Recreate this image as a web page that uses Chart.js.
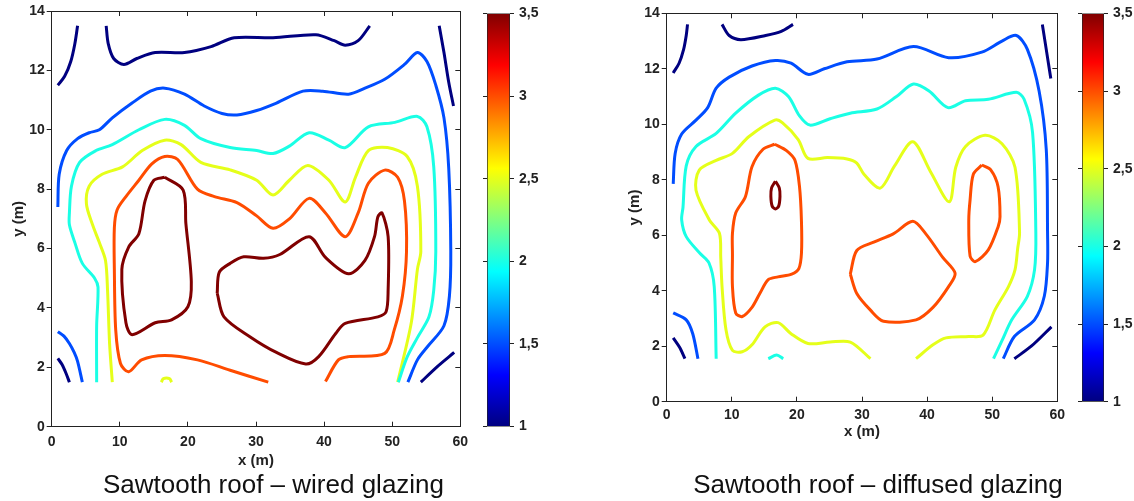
<!DOCTYPE html>
<html lang="en">
<head>
<meta charset="UTF-8">
<title>Sawtooth roof - contour maps</title>
<script src="https://cdn.jsdelivr.net/npm/chart.js@4"></script>
<style>
  * { margin: 0; padding: 0; box-sizing: border-box; }
  body {
    width: 1134px;
    height: 501px;
    background: #fff;
    position: relative;
    overflow: hidden;
    font-family: 'Liberation Sans', Arial, sans-serif;
  }
  canvas { position: absolute; }
  .caption {
    position: absolute;
    top: 471px;
    font-size: 26px;
    line-height: 26px;
    color: #111;
    white-space: nowrap;
    transform: translateX(-50%);
  }
</style>
</head>
<body>
  <canvas id="wiredMap" width="480" height="475" style="left:0;top:0"></canvas>
  <canvas id="wiredBar" width="60" height="440" style="left:480px;top:0"></canvas>
  <canvas id="diffusedMap" width="460" height="445" style="left:615px;top:0"></canvas>
  <canvas id="diffusedBar" width="59" height="420" style="left:1075px;top:0"></canvas>

  <div class="caption" style="left:273.5px">Sawtooth roof – wired glazing</div>
  <div class="caption" style="left:878px">Sawtooth roof – diffused glazing</div>

<script>
// axes
const xRange = [0, 60];
const yRange = [0, 14];
const xTickValues = [0, 10, 20, 30, 40, 50, 60];
const yTickValues = [0, 2, 4, 6, 8, 10, 12, 14];
const cbRange = [1, 3.5];
const cbTickValues = [1, 1.5, 2, 2.5, 3, 3.5];
const contourLevels = [1, 1.5, 2, 2.5, 3, 3.5];

// wired glazing: contour pieces [x, y] per level
const wiredL10 = [
  [[0.9,11.5],[1.9,11.8],[2.8,12.3],[3.4,12.9],[3.8,13.5]],
  [[8.0,13.5],[8.3,12.9],[9.1,12.4],[10.6,12.2],[12.5,12.4],[15.2,12.6],[19.5,12.6],[23.4,12.8],[26.8,13.1],[32.5,13.1],[38.8,13.2],[41.5,13.0],[43.1,12.85],[45.0,13.0],[46.7,13.5]],
  [[56.9,13.5],[57.6,12.6],[58.3,11.6],[59.0,10.8]],
  [[0.9,2.3],[1.5,2.1],[2.1,1.8],[2.6,1.5]],
  [[54.2,1.5],[56.5,2.0],[59.1,2.5]]
];
const wiredL15 = [
  [[0.9,7.4],[1.1,8.5],[2.2,9.3],[3.8,9.7],[5.5,9.9],[7.0,10.0],[8.9,10.4],[11.8,10.9],[14.5,11.3],[16.6,11.4],[19.5,11.2],[22.4,10.8],[25.0,10.55],[27.2,10.5],[30.1,10.65],[33.0,10.9],[36.9,11.3],[39.8,11.3],[43.6,11.2],[46.0,11.4],[48.9,11.7],[51.8,12.2],[53.7,12.6],[55.1,12.3],[56.4,11.5],[57.6,10.4],[58.3,8.7],[58.6,5.9],[58.4,4.4],[57.6,3.4],[55.2,2.7],[53.7,2.25],[52.3,1.5]],
  [[0.9,3.2],[1.8,3.05],[2.6,2.8],[3.3,2.5],[3.8,2.2],[4.5,1.5]]
];
const wiredL20 = [
  [[6.6,1.5],[6.6,3.4],[6.8,4.7],[6.3,5.0],[4.5,5.5],[3.4,6.2],[2.6,6.8],[2.6,7.2],[2.9,8.1],[4.1,8.9],[6.5,9.3],[8.9,9.5],[12.8,10.0],[16.6,10.35],[19.5,10.15],[21.9,9.7],[26.2,9.4],[30.1,9.3],[32.5,9.2],[34.9,9.45],[37.8,9.9],[40.7,9.65],[43.1,9.4],[46.5,10.1],[50.4,10.25],[53.7,10.45],[55.1,10.1],[56.1,8.75],[56.4,5.9],[56.1,4.6],[55.4,3.7],[53.7,3.0],[52.2,2.35],[50.9,1.5]]
];
const wiredL25 = [
  [[8.9,1.5],[8.5,2.8],[8.2,4.6],[7.9,5.6],[7.0,6.2],[6.0,6.8],[5.1,7.5],[5.5,8.1],[7.4,8.5],[10.4,8.75],[13.3,9.3],[16.6,9.65],[19.0,9.5],[21.9,8.9],[26.2,8.65],[30.1,8.3],[32.5,7.8],[34.9,8.3],[37.6,8.8],[40.7,8.3],[43.1,7.57],[44.6,8.4],[46.5,9.3],[49.3,9.4],[52.2,9.1],[53.7,8.1],[54.2,5.9],[53.7,5.3],[52.8,3.5],[50.8,1.5]],
  [[16.1,1.5],[16.4,1.62],[17.3,1.62],[17.6,1.5]]
];
const wiredL30 = [
  [[31.8,1.5],[26.2,1.9],[21.4,2.25],[16.6,2.4],[13.2,2.25],[11.3,1.85],[10.1,2.13],[9.4,3.26],[9.2,5.3],[9.2,6.7],[9.6,7.3],[10.9,7.75],[12.8,8.3],[14.7,8.85],[16.6,9.1],[18.5,9.0],[21.4,8.0],[23.9,7.75],[27.2,7.55],[30.1,7.1],[32.5,6.68],[34.9,7.0],[37.8,7.69],[40.2,7.2],[43.1,6.4],[45.0,7.2],[46.5,8.2],[48.9,8.64],[50.8,8.4],[51.8,7.6],[52.1,5.9],[51.5,4.4],[50.3,3.26],[48.9,2.47],[43.6,2.36],[42.1,2.25],[40.2,1.52]]
];
const wiredL35 = [
  [[16.6,8.4],[19.3,7.97],[19.7,6.85],[20.5,4.88],[20.0,4.04],[17.6,3.6],[15.2,3.5],[11.8,3.1],[10.9,3.5],[10.3,5.3],[11.3,6.05],[12.8,6.5],[13.7,7.6],[15.0,8.3],[16.6,8.4]],
  [[24.3,4.5],[24.6,5.2],[26.2,5.5],[28.2,5.72],[31.1,5.67],[33.5,5.8],[37.8,6.4],[40.2,5.7],[43.6,5.15],[46.0,5.6],[47.4,6.4],[47.9,7.07],[48.5,7.2],[49.4,6.4],[49.4,4.6],[49.1,3.87],[47.9,3.7],[43.1,3.48],[41.7,3.14],[39.2,2.36],[37.3,2.11],[33.0,2.5],[29.1,3.03],[25.3,3.7],[24.3,4.5]]
];

// diffused glazing: contour pieces [x, y] per level
const diffusedL10 = [
  [[1.0,11.85],[1.9,12.2],[2.6,12.7],[3.0,13.2],[3.2,13.6]],
  [[8.5,13.6],[9.6,13.2],[11.4,13.05],[15.2,13.2],[17.6,13.35],[19.4,13.6]],
  [[57.7,13.6],[58.3,12.7],[59.0,11.65]],
  [[1.0,2.3],[2.0,1.95],[2.8,1.55]],
  [[53.4,1.55],[56.0,2.0],[59.1,2.7]]
];
const diffusedL15 = [
  [[1.0,7.85],[1.3,8.95],[2.3,9.65],[4.5,10.15],[6.3,10.6],[7.6,11.3],[9.6,11.7],[13.1,12.1],[16.7,12.3],[19.1,12.2],[21.7,11.8],[24.2,12.0],[27.7,12.25],[32.3,12.35],[37.9,12.8],[43.3,12.4],[48.4,12.6],[51.5,13.0],[53.7,13.2],[55.4,12.7],[57.2,11.2],[58.3,9.1],[58.5,6.1],[58.5,5.0],[58.0,3.8],[56.5,2.95],[53.4,2.35],[51.7,1.55]],
  [[1.0,3.2],[3.0,2.95],[4.0,2.45],[4.8,1.55]]
];
const diffusedL20 = [
  [[7.6,1.55],[7.3,4.15],[6.5,5.0],[5.1,5.35],[3.0,5.95],[2.3,6.55],[2.5,7.0],[3.0,8.5],[4.5,9.2],[7.6,9.67],[10.6,10.4],[14.1,11.05],[16.7,11.3],[18.7,11.0],[20.4,10.3],[22.0,9.97],[25.1,10.2],[28.2,10.4],[32.3,10.55],[35.3,11.0],[37.9,11.45],[40.3,11.2],[43.2,10.6],[45.9,10.85],[49.4,10.9],[53.7,11.15],[54.9,10.9],[56.2,9.7],[56.7,6.1],[56.5,4.75],[55.4,3.8],[53.0,2.95],[51.5,2.2],[50.2,1.55]],
  [[15.6,1.55],[16.9,1.68],[17.9,1.55]]
];
const diffusedL25 = [
  [[31.3,1.55],[28.2,2.15],[25.1,2.15],[21.7,2.1],[19.1,2.45],[17.1,2.85],[15.1,2.7],[13.1,2.05],[11.6,1.8],[10.1,1.85],[9.1,2.6],[8.5,4.15],[8.3,5.2],[8.1,6.07],[6.55,6.55],[4.5,7.62],[5.0,8.35],[7.6,8.7],[10.1,8.95],[12.6,9.55],[16.6,10.15],[17.8,10.05],[20.2,9.45],[21.7,8.77],[24.7,8.8],[27.7,8.75],[29.2,8.6],[30.3,8.2],[32.8,7.7],[35.0,8.5],[37.8,9.37],[40.5,8.3],[43.4,7.21],[44.4,8.45],[45.9,9.2],[48.9,9.6],[51.5,9.3],[53.5,8.45],[54.2,6.1],[53.9,5.5],[53.5,4.75],[52.5,4.15],[50.4,3.3],[48.6,2.4],[46.4,2.35],[42.9,2.3],[40.9,2.05],[38.3,1.55]]
];
const diffusedL30 = [
  [[16.6,9.28],[18.4,9.05],[19.7,8.7],[20.4,7.75],[20.7,6.5],[20.7,5.35],[20.3,4.8],[19.2,4.6],[17.1,4.5],[15.6,4.4],[14.3,3.9],[13.1,3.4],[11.6,3.07],[10.6,3.2],[10.1,4.15],[10.1,5.3],[10.1,6.07],[10.6,6.8],[12.1,7.4],[13.1,8.47],[14.8,9.1],[16.6,9.28]],
  [[28.2,4.6],[29.2,5.45],[31.8,5.75],[34.8,6.05],[37.8,6.5],[39.8,6.05],[42.4,5.2],[44.3,4.63],[43.3,4.15],[40.9,3.4],[38.3,2.95],[33.3,2.9],[31.3,3.3],[29.2,3.9],[28.2,4.6]],
  [[48.4,8.53],[49.8,8.35],[50.9,7.75],[51.2,6.67],[50.9,6.3],[49.4,5.47],[47.4,5.05],[46.6,5.25],[46.4,6.55],[46.6,7.27],[47.1,8.2],[48.4,8.53]]
];
const diffusedL35 = [
  [[16.7,7.95],[17.3,7.7],[17.4,7.4],[17.2,7.05],[16.7,6.95],[16.2,7.05],[16.0,7.4],[16.1,7.7],[16.7,7.95]]
];

const ink = '#222';
const tickFont = { family: "'Liberation Sans', Arial, sans-serif", size: 14, weight: 'bold' };
const titleFont = { family: "'Liberation Sans', Arial, sans-serif", size: 15, weight: 'bold' };

// matlab style "jet" colormap, t in 0..1
function jet(t) {
  const c = v => Math.round(255 * Math.max(0, Math.min(1, v)));
  return `rgb(${c(1.5 - Math.abs(4 * t - 3))},${c(1.5 - Math.abs(4 * t - 2))},${c(1.5 - Math.abs(4 * t - 1))})`;
}
const levelColor = v => jet((v - cbRange[0]) / (cbRange[1] - cbRange[0]));

function buildDatasets(levels) {
  const sets = [];
  levels.forEach((pieces, i) => {
    pieces.forEach(p => {
      sets.push({
        data: p.map(([x, y]) => ({ x, y })),
        showLine: true,
        borderColor: levelColor(contourLevels[i]),
        borderWidth: 3,
        pointRadius: 0,
        tension: 0.3,
        fill: false
      });
    });
  });
  return sets;
}

const setTicks = vals => s => { s.ticks = vals.map(v => ({ value: v })); };

function contourChart(id, levels, g) {
  return new Chart(document.getElementById(id), {
    type: 'scatter',
    data: { datasets: buildDatasets(levels) },
    options: {
      responsive: false,
      animation: false,
      layout: { padding: { top: g.top, right: g.right, bottom: 0, left: 0 } },
      plugins: { legend: { display: false }, tooltip: { enabled: false } },
      scales: {
        x: {
          type: 'linear', position: 'bottom', min: xRange[0], max: xRange[1],
          afterBuildTicks: setTicks(xTickValues),
          ticks: { color: ink, font: tickFont, padding: g.xPad, maxRotation: 0, autoSkip: false },
          grid: { drawOnChartArea: false, tickLength: -5, tickColor: ink },
          border: { color: ink },
          title: { display: true, text: 'x (m)', color: ink, font: titleFont, padding: { top: 0, bottom: g.xTitlePad } },
          afterFit: s => { s.height = g.xH; }
        },
        x2: {
          type: 'linear', position: 'top', min: xRange[0], max: xRange[1],
          afterBuildTicks: setTicks(xTickValues),
          ticks: { display: false },
          grid: { drawOnChartArea: false, tickLength: -5, tickColor: ink },
          border: { color: ink },
          afterFit: s => { s.height = 0; }
        },
        y: {
          type: 'linear', position: 'left', min: yRange[0], max: yRange[1],
          afterBuildTicks: setTicks(yTickValues),
          ticks: { color: ink, font: tickFont, padding: 2, autoSkip: false },
          grid: { drawOnChartArea: false, tickLength: 5, tickColor: ink },
          border: { color: ink },
          title: { display: true, text: 'y (m)', color: ink, font: titleFont, padding: { top: g.yTitlePad, bottom: 0 } },
          afterFit: s => { s.width = g.yW; }
        },
        y2: {
          type: 'linear', position: 'right', min: yRange[0], max: yRange[1],
          afterBuildTicks: setTicks(yTickValues),
          ticks: { display: false },
          grid: { drawOnChartArea: false, tickLength: -5, tickColor: ink },
          border: { color: ink },
          afterFit: s => { s.width = 0; }
        }
      }
    }
  });
}

function colorBar(id, g) {
  const gradient = c => {
    const ch = c.chart;
    if (!ch.chartArea) return null;
    const y = ch.scales.y;
    const grd = ch.ctx.createLinearGradient(0, y.getPixelForValue(cbRange[0]), 0, y.getPixelForValue(cbRange[1]));
    for (let i = 0; i <= 8; i++) grd.addColorStop(i / 8, jet(i / 8));
    return grd;
  };
  return new Chart(document.getElementById(id), {
    type: 'bar',
    data: {
      labels: ['scale'],
      datasets: [{
        data: [[cbRange[0], cbRange[1]]],
        backgroundColor: gradient,
        borderColor: ink,
        borderWidth: 1,
        borderSkipped: false,
        barPercentage: 1,
        categoryPercentage: 1
      }]
    },
    options: {
      responsive: false,
      animation: false,
      layout: { padding: { top: g.top, right: 0, bottom: g.bottom, left: 0 } },
      plugins: { legend: { display: false }, tooltip: { enabled: false } },
      scales: {
        x: { display: false },
        y: {
          position: 'right', min: cbRange[0], max: cbRange[1],
          afterBuildTicks: setTicks(cbTickValues),
          ticks: { color: ink, font: tickFont, padding: 5, callback: v => String(v).replace('.', ',') },
          grid: { drawOnChartArea: false, tickLength: 4, tickColor: ink },
          border: { display: false },
          afterFit: s => { s.width = 30; }
        },
        y2: {
          position: 'left', min: cbRange[0], max: cbRange[1],
          afterBuildTicks: setTicks(cbTickValues),
          ticks: { display: false },
          grid: { drawOnChartArea: false, tickLength: 4, tickColor: ink },
          border: { display: false },
          afterFit: s => { s.width = 7; }
        }
      }
    }
  });
}

contourChart('wiredMap', [wiredL10, wiredL15, wiredL20, wiredL25, wiredL30, wiredL35],
  { top: 11, right: 12.7, yW: 51.7, xH: 48.3, xPad: 11.9, xTitlePad: 5, yTitlePad: 10 });
colorBar('wiredBar', { top: 11, bottom: 13 });

contourChart('diffusedMap', [diffusedL10, diffusedL15, diffusedL20, diffusedL25, diffusedL30, diffusedL35],
  { top: 13.3, right: 11.7, yW: 51.7, xH: 43.3, xPad: 9.9, xTitlePad: 4, yTitlePad: 11 });
colorBar('diffusedBar', { top: 11, bottom: 18.3 });
</script>
</body>
</html>
